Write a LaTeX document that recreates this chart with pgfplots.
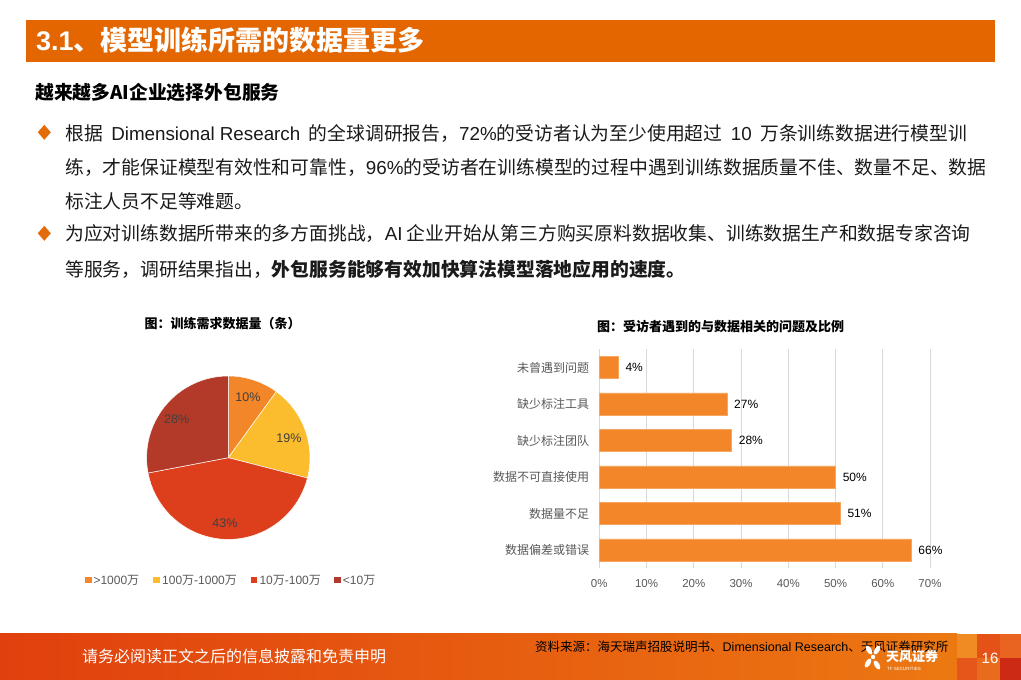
\documentclass[border=0pt]{standalone}
\usepackage{fontspec}
\usepackage{pgfplots}
\pgfplotsset{compat=1.18}
\setmainfont{Noto Sans CJK SC}
\newfontfamily\lat{Liberation Sans}
\definecolor{hdr}{HTML}{E46600}
\definecolor{bullet}{HTML}{E36C0A}
\definecolor{bodyc}{HTML}{1A1A1A}
\definecolor{pieA}{HTML}{F4862A}
\definecolor{pieB}{HTML}{FBBC2E}
\definecolor{pieC}{HTML}{DD3E1C}
\definecolor{pieD}{HTML}{B33A28}
\definecolor{barc}{HTML}{F4862A}
\definecolor{baredge}{HTML}{F7A660}
\definecolor{labc}{HTML}{404040}
\definecolor{axc}{HTML}{595959}
\definecolor{gridc}{HTML}{D9D9D9}
\definecolor{ftL}{HTML}{E1400E}
\definecolor{ftR}{HTML}{EC7812}
\definecolor{mA}{HTML}{F08A22}
\definecolor{mB}{HTML}{E4561A}
\definecolor{mC}{HTML}{E45218}
\definecolor{mD}{HTML}{E96C1C}
\definecolor{mE}{HTML}{E86420}
\definecolor{mF}{HTML}{CC2A14}
\newcommand{\fs}[1]{\fontsize{#1}{#1}\selectfont}
\begin{document}
\begin{tikzpicture}[x=1pt,y=1pt]
\path[use as bounding box] (0,0) rectangle (1021,680);
\fill[white] (0,0) rectangle (1021,680);
% header
\fill[hdr] (26,660) rectangle (995,618.3);
\node[anchor=base west, inner sep=0pt, text=white, font=\fs{27}\bfseries] at (36,629) {{\lat\bfseries 3.1}、模型训练所需的数据量更多};
% subheading
\node[anchor=base west, inner sep=0pt, text=black, font=\fs{18.8}\bfseries] at (35,580.3) {越来越多AI企业选择外包服务};
% bullets
\fill[bullet] (44.3,555.2) -- (50.8,547.7) -- (44.3,540.2) -- (37.8,547.7) -- cycle;
\fill[bullet] (44.3,454.2) -- (50.8,446.7) -- (44.3,439.2) -- (37.8,446.7) -- cycle;
\begin{scope}[every node/.style={anchor=base west, inner sep=0pt, text=bodyc, font=\fs{18.8}}]
\node at (65,539.5) {根据\hspace{0.45em}{\lat Dimensional Research}\hspace{0.45em}的全球调研报告，{\lat 72\%}的受访者认为至少使用超过\hspace{0.45em}{\lat 10}\hspace{0.45em}万条训练数据进行模型训};
\node at (65,505.3) {练，才能保证模型有效性和可靠性，{\lat 96\%}的受访者在训练模型的过程中遇到训练数据质量不佳、数量不足、数据};
\node at (65,471.6) {标注人员不足等难题。};
\node at (65,439.1) {为应对训练数据所带来的多方面挑战，{\lat AI} 企业开始从第三方购买原料数据收集、训练数据生产和数据专家咨询};
\node at (65,403.3) {等服务，调研结果指出，\textbf{外包服务能够有效加快算法模型落地应用的速度。}};
\end{scope}
% chart titles
\node[inner sep=0pt, font=\fs{13}\bfseries] at (222.7,356) {图：训练需求数据量（条）};
\node[inner sep=0pt, font=\fs{13}\bfseries] at (720.5,353.3) {图：受访者遇到的与数据相关的问题及比例};
% pie chart
\begin{axis}[at={(228.3pt,222.3pt)}, anchor=center, scale only axis,
  width=163.4pt, height=163.4pt, xmin=-1, xmax=1, ymin=-1, ymax=1,
  hide axis, clip=false]
\addplot[draw=none] coordinates {(0,0)};
\fill[pieA, draw=white, line width=0.5pt] (axis cs:0,0) -- ++(90:81.7pt) arc[start angle=90, end angle={90-3.6*10}, radius=81.7pt] -- cycle;
\fill[pieB, draw=white, line width=0.5pt] (axis cs:0,0) -- ++(54:81.7pt) arc[start angle=54, end angle={54-3.6*19}, radius=81.7pt] -- cycle;
\fill[pieC, draw=white, line width=0.5pt] (axis cs:0,0) -- ++(-14.4:81.7pt) arc[start angle=-14.4, end angle={-14.4-3.6*43}, radius=81.7pt] -- cycle;
\fill[pieD, draw=white, line width=0.5pt] (axis cs:0,0) -- ++(-169.2:81.7pt) arc[start angle=-169.2, end angle={-169.2-3.6*28}, radius=81.7pt] -- cycle;
\node[text=labc, font=\lat\fs{12.5}] at (axis cs:{0.78*cos(72)},{0.78*sin(72)}) {10\%};
\node[text=labc, font=\lat\fs{12.5}] at (axis cs:{0.78*cos(18)},{0.78*sin(18)}) {19\%};
\node[text=labc, font=\lat\fs{12.5}] at (axis cs:{0.80*cos(-93)},{0.80*sin(-93)}) {43\%};
\node[text=labc, font=\lat\fs{12.5}] at (axis cs:{0.79*cos(143)},{0.79*sin(143)}) {28\%};
\end{axis}
% pie legend
\fill[pieA] (85,96.7) rectangle (91.7,103.3);
\fill[pieB] (153.3,96.7) rectangle (160,103.3);
\fill[pieC] (250.7,96.7) rectangle (257.4,103.3);
\fill[pieD] (334,96.7) rectangle (340.7,103.3);
\begin{scope}[every node/.style={anchor=west, inner sep=0pt, text=axc, font=\fs{12}}]
\node at (93.3,100) {{\lat >1000}万};
\node at (162,100) {{\lat 100}万{\lat -1000}万};
\node at (259.3,100) {{\lat 10}万{\lat -100}万};
\node at (342.7,100) {{\lat <10}万};
\end{scope}
% bar chart
\begin{axis}[at={(599.3pt,330.7pt)}, anchor=north west, scale only axis,
  width=330.7pt, height=219pt,
  xbar, bar width=22.3pt,
  xmin=0, xmax=70, ymin=-0.5, ymax=5.5,
  xtick={0,10,...,70}, ytick={0,1,2,3,4,5},
  yticklabels={数据偏差或错误,数据量不足,数据不可直接使用,缺少标注团队,缺少标注工具,未曾遇到问题},
  xticklabel={\pgfmathprintnumber{\tick}\%},
  /pgf/number format/assume math mode=true,
  xmajorgrids, major grid style={gridc, line width=0.8pt},
  axis line style={draw=none}, major tick length=0pt,
  xticklabel style={font=\lat\fs{11.5}, text=axc, anchor=north, inner sep=0pt, yshift=-10.5pt},
  yticklabel style={font=\fs{12}, text=axc, anchor=east, inner sep=0pt, xshift=-10pt},
  nodes near coords={\pgfmathprintnumber{\pgfplotspointmeta}\%},
  nodes near coords style={font=\lat\fs{12}, text=black, anchor=west, inner sep=0pt, xshift=7pt},
  clip=false]
\addplot[fill=barc, draw=baredge, line width=0.6pt] coordinates {(66,0) (51,1) (50,2) (28,3) (27,4) (4,5)};
\end{axis}
% footer
\shade[left color=ftL, right color=ftR] (0,0) rectangle (957,46);
\fill[ftR] (930,0) rectangle (957,46);
\fill[mA] (957,22) rectangle (977,46);
\fill[mB] (957,0) rectangle (977,22);
\fill[mC] (977,22) rectangle (1000,46);
\fill[mD] (977,0) rectangle (1000,22);
\fill[mE] (1000,22) rectangle (1021,46);
\fill[mF] (1000,0) rectangle (1021,22);
\node[anchor=base west, inner sep=0pt, text=white, font=\fs{16}] at (82,17) {请务必阅读正文之后的信息披露和免责申明};
\node[anchor=base west, inner sep=0pt, text=black, font=\fs{12.5}] at (535,28) {资料来源：海天瑞声招股说明书、{\lat Dimensional Research}、天风证券研究所};
\node[inner sep=0pt, text=white, font=\lat\fs{15}] at (990,22) {16};
% logo
\begin{scope}[white]
\fill[rotate around={30:(869,30)}] (869,30) ellipse (2.5pt and 5pt);
\fill[rotate around={-30:(877,30)}] (877,30) ellipse (2.5pt and 5pt);
\fill[rotate around={-30:(868,17)}] (868,17) ellipse (2.5pt and 5pt);
\fill[rotate around={30:(877,15)}] (877,15) ellipse (2.5pt and 5pt);
\fill (873,23) circle (2.2pt);
\end{scope}
\node[anchor=base west, inner sep=0pt, text=white, font=\fs{13}\bfseries] at (886,18) {天风证券};
\node[anchor=base west, inner sep=0pt, text=white, font=\lat\fs{4.5}] at (887,9) {TF SECURITIES};
\end{tikzpicture}
\end{document}
